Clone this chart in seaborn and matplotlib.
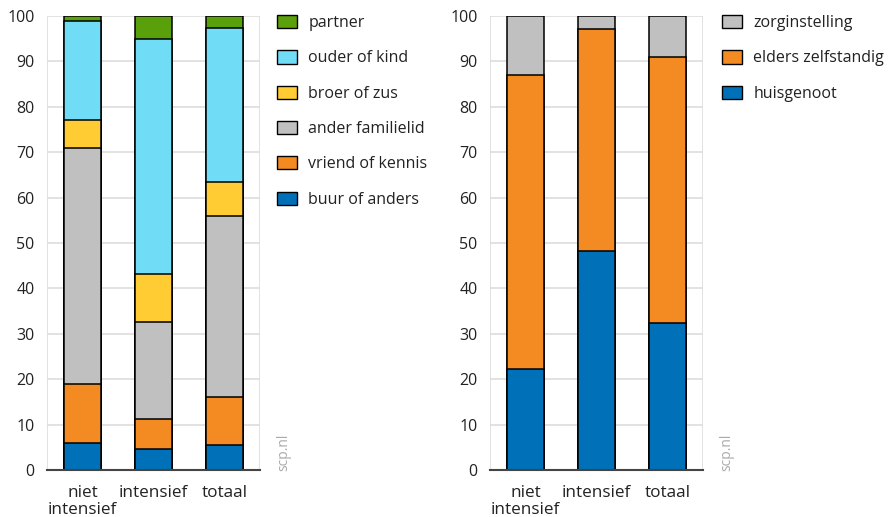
import matplotlib
matplotlib.use("Agg")
import matplotlib.pyplot as plt
from matplotlib.patches import Patch
import numpy as np
import pandas as pd
import seaborn as sns

sns.set_theme(style="white")
plt.rcParams['font.family'] = ['Open Sans', 'DejaVu Sans']

categories = ["niet\nintensief", "intensief", "totaal"]

# left chart (bottom -> top)
left_series = ["buur of anders", "vriend of kennis", "ander familielid",
               "broer of zus", "ouder of kind", "partner"]
buur = [6.0, 4.7, 5.4]
vriend = [13.0, 6.5, 10.7]
ander = [52.0, 21.4, 39.8]
broer = [6.0, 10.6, 7.6]
ouder = [22.0, 51.7, 33.8]
partner = [1.0, 5.1, 2.7]
left_values = [buur, vriend, ander, broer, ouder, partner]
left_colors = ["#0070b8", "#f38a22", "#c0c0c0", "#ffcd33", "#70dcf5", "#5aa00a"]

# right chart (bottom -> top)
right_series = ["huisgenoot", "elders zelfstandig", "zorginstelling"]
huisgenoot = [22.2, 48.3, 32.3]
elders = [64.9, 48.8, 58.7]
zorg = [12.9, 2.9, 9.0]
right_values = [huisgenoot, elders, zorg]
right_colors = ["#0070b8", "#f38a22", "#c0c0c0"]

fig = plt.figure(figsize=(8.89, 5.17), dpi=100)
W, H = 889, 517
ax1 = fig.add_axes([47 / W, 1 - 470 / H, 213 / W, 454 / H])
ax2 = fig.add_axes([490 / W, 1 - 470 / H, 213 / W, 454 / H])

FS = 11.5
TXT = "#222222"


def draw(ax, series, values, colors):
    cum = np.cumsum(np.array(values), axis=0)
    for i in range(len(series) - 1, -1, -1):
        df = pd.DataFrame({"cat": categories, "val": cum[i]})
        sns.barplot(data=df, x="cat", y="val", color=colors[i], saturation=1,
                    edgecolor="black", linewidth=1.1, width=0.535, ax=ax,
                    order=categories, zorder=3)
    ax.set_xlim(-0.5, 2.5)
    ax.set_ylim(0, 100)
    ax.set_yticks(range(0, 101, 10))
    ax.set_xlabel("")
    ax.set_ylabel("")
    ax.yaxis.grid(True, color="#dddddd", linewidth=1.2, zorder=0)
    ax.set_axisbelow(True)
    for s in ["left", "right", "top"]:
        ax.spines[s].set_visible(False)
    ax.axvline(-0.5, color="#dddddd", linewidth=1.2, zorder=0)
    ax.axvline(2.5, color="#dddddd", linewidth=1.2, zorder=0)
    ax.spines["bottom"].set_color("#444444")
    ax.spines["bottom"].set_linewidth(1.5)
    ax.spines["bottom"].set_zorder(5)
    ax.tick_params(axis="y", length=0, labelsize=FS, colors=TXT, pad=9)
    ax.tick_params(axis="x", length=0, labelsize=12.3, colors=TXT, pad=11)
    for lab in ax.get_xticklabels():
        lab.set_linespacing(1.05)


draw(ax1, left_series, left_values, left_colors)
draw(ax2, right_series, right_values, right_colors)


def legend(series, colors, x, y):
    handles = [Patch(facecolor=c, edgecolor="black", linewidth=1.0, label=s)
               for s, c in zip(series, colors)]
    handles = handles[::-1]
    fig.legend(handles=handles, loc="upper left", bbox_to_anchor=(x / W, 1 - y / H),
               frameon=False, fontsize=FS, labelcolor=TXT, handlelength=1.25,
               handleheight=0.9, handletextpad=0.7, labelspacing=1.2,
               borderaxespad=0, borderpad=0)


legend(left_series, left_colors, 277, 15)
legend(right_series, right_colors, 722, 15)

fig.text(284 / W, 1 - 452 / H, "scp.nl", rotation=90, color="#aaaaaa",
         fontsize=10, ha="center", va="center")
fig.text(727 / W, 1 - 452 / H, "scp.nl", rotation=90, color="#aaaaaa",
         fontsize=10, ha="center", va="center")

fig.savefig("out.png", dpi=100)
